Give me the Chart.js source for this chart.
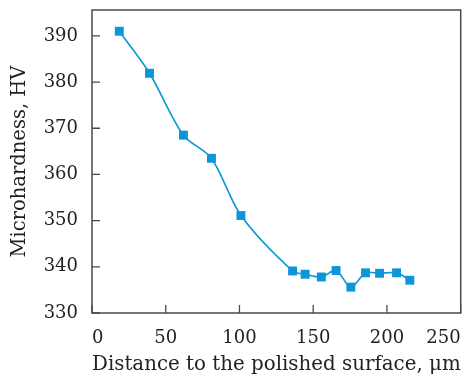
<!DOCTYPE html>
<html>
<head>
<meta charset="utf-8">
<script src="https://cdn.jsdelivr.net/npm/chart.js@4"></script>
<style>
html,body{margin:0;padding:0;background:#fff;}
#wrap{width:467px;height:377px;}
</style>
</head>
<body>
<div id="wrap"><canvas id="c" width="467" height="377"></canvas></div>
<script>
const distance = [18.5, 39, 62, 81, 101, 136, 144.5, 155.5, 165.5, 175.5, 185.5, 195, 206.5, 215.5];
const hardness = [391.0, 381.9, 368.5, 363.5, 351.1, 339.1, 338.4, 337.8, 339.2, 335.6, 338.7, 338.6, 338.7, 337.1];
const xTicks = [0, 50, 100, 150, 200, 250];
const yTicks = [330, 340, 350, 360, 370, 380, 390];
const xTitle = 'Distance to the polished surface, \u03bcm';
const yTitle = 'Microhardness, HV';

const blue = '#0a96d8';
const frameColor = '#4a4a4a';
const fontFamily = '"DejaVu Serif", "Liberation Serif", serif';

const framePlugin = {
  id: 'frame',
  afterDatasetsDraw(chart) {
    const {ctx, chartArea: a, scales} = chart;
    ctx.save();
    ctx.strokeStyle = frameColor;
    ctx.lineWidth = 1.5;
    ctx.strokeRect(a.left, a.top, a.right - a.left, a.bottom - a.top);
    ctx.lineWidth = 1.3;
    ctx.beginPath();
    scales.y.ticks.forEach(t => {
      const y = scales.y.getPixelForValue(t.value);
      ctx.moveTo(a.left, y); ctx.lineTo(a.left + 8, y);
    });
    scales.x.ticks.forEach(t => {
      const x = scales.x.getPixelForValue(t.value);
      ctx.moveTo(x, a.bottom); ctx.lineTo(x, a.bottom - 8);
    });
    ctx.stroke();
    ctx.restore();
  }
};

new Chart(document.getElementById('c'), {
  type: 'line',
  data: {
    datasets: [{
      data: distance.map((x, i) => ({x, y: hardness[i]})),
      borderColor: blue,
      backgroundColor: blue,
      borderWidth: 1.6,
      tension: 0.3,
      pointStyle: 'rect',
      pointRadius: 6.3,
      pointBorderWidth: 0,
      pointBackgroundColor: blue,
      clip: false
    }]
  },
  options: {
    responsive: false,
    animation: false,
    devicePixelRatio: 1,
    layout: {padding: {top: 10, right: 3, left: 0, bottom: 0}},
    plugins: {legend: {display: false}, tooltip: {enabled: false}},
    scales: {
      x: {
        type: 'linear',
        min: 0, max: 250,
        afterBuildTicks: s => { s.ticks = xTicks.map(v => ({value: v})); },
        afterFit: s => { s.height = 64; s.paddingLeft = 0; s.paddingRight = 0; },
        grid: {display: false, drawTicks: false},
        border: {display: false},
        ticks: {
          padding: 15,
          color: '#222',
          align: 'inner',
          maxRotation: 0,
          font: {family: fontFamily, size: 18},
          callback: v => String(v)
        },
        title: {
          display: true,
          text: xTitle,
          color: '#222',
          padding: {top: 4, bottom: 0},
          font: {family: fontFamily, size: 20}
        }
      },
      y: {
        type: 'linear',
        min: 330, max: 395.6,
        afterBuildTicks: s => { s.ticks = yTicks.map(v => ({value: v})); },
        afterFit: s => { s.width = 92; s.paddingTop = 0; s.paddingBottom = 0; },
        grid: {display: false, drawTicks: false},
        border: {display: false},
        ticks: {
          padding: 14,
          color: '#222',
          font: {family: fontFamily, size: 18},
          callback: v => String(v)
        },
        title: {
          display: true,
          text: yTitle,
          color: '#222',
          padding: {top: 8, bottom: 0},
          font: {family: fontFamily, size: 19.5}
        }
      }
    }
  },
  plugins: [framePlugin]
});
</script>
</body>
</html>
